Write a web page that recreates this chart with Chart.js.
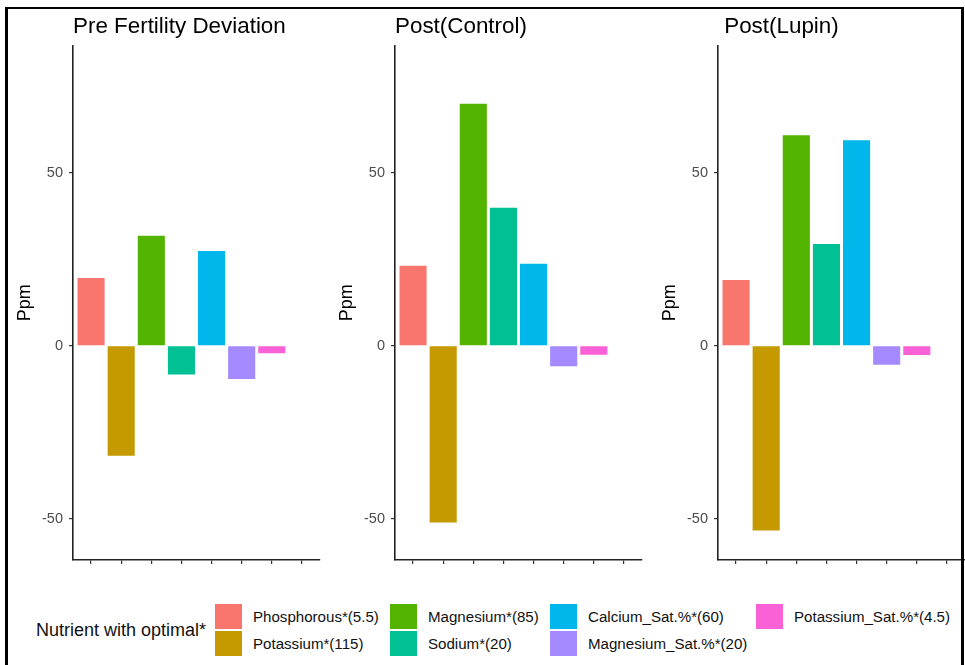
<!DOCTYPE html>
<html>
<head>
<meta charset="utf-8">
<script src="https://cdn.jsdelivr.net/npm/chart.js@4.4.1/dist/chart.umd.min.js"></script>
<style>
  html, body {
    margin: 0; padding: 0; background: #fff;
    width: 965px; height: 665px; overflow: hidden; position: relative;
    font-family: "Liberation Sans", Arial, sans-serif;
  }
  canvas { position: absolute; top: 0; }
  #frame {
    position: absolute; left: 5px; top: 7px; width: 953px; height: 680px;
    border-left: 3px solid #000; border-right: 3px solid #000; border-top: 2px solid #000;
    pointer-events: none;
  }
  .leg-title { position: absolute; left: 36px; top: 618px; font-size: 18px; color: #111; white-space: nowrap; line-height: 24px; }
  .leg-key { position: absolute; width: 27px; height: 25px; }
  .leg-label { position: absolute; font-size: 15.1px; color: #111; white-space: nowrap; line-height: 25px; }
</style>
</head>
<body>
<canvas id="p0" width="322" height="576" style="left:0px"></canvas>
<canvas id="p1" width="322" height="576" style="left:322px"></canvas>
<canvas id="p2" width="322" height="576" style="left:645px"></canvas>
<div id="legend"></div>
<div id="frame"></div>

<script>
// Nutrients and their optimal levels (legend labels)
const nutrients = [
  'Phosphorous*(5.5)', 'Potassium*(115)', 'Magnesium*(85)', 'Sodium*(20)',
  'Calcium_Sat.%*(60)', 'Magnesium_Sat.%*(20)', 'Potassium_Sat.%*(4.5)'
];
const nutrientColors = ['#F8766D', '#C49A00', '#53B400', '#00C094', '#00B6EB', '#A58AFF', '#FB61D7'];

// Slot of each nutrient on the discrete x axis; an eighth slot is left empty
const slots = [1, 2, 3, 4, 5, 6, 7];
const xTicks = [1, 2, 3, 4, 5, 6, 7, 8];
const yTicks = [-50, 0, 50];

// Deviation from optimal (ppm)
const preDeviation = [19.6, -31.8, 31.8, -8.3, 27.4, -9.6, -2.2];
const postControl  = [23.1, -51.1, 69.9, 39.9, 23.7, -5.9, -2.6];
const postLupin    = [19.0, -53.4, 60.8, 29.4, 59.4, -5.5, -2.7];

const panelTitles = ['Pre Fertility Deviation', 'Post(Control)', ' Post(Lupin)'];
const yTitle = 'Ppm';
const legendTitle = 'Nutrient with optimal*';

const FONT = '"Liberation Sans", Arial, sans-serif';

function makePanel(id, title, values) {
  return new Chart(document.getElementById(id), {
    type: 'bar',
    data: {
      datasets: [{
        data: values.map((v, i) => ({ x: slots[i], y: v })),
        backgroundColor: nutrientColors,
        borderWidth: 0,
        barPercentage: 0.9,
        categoryPercentage: 1
      }]
    },
    options: {
      responsive: false,
      animation: false,
      devicePixelRatio: 1,
      layout: { padding: { left: 0, right: 2, top: 0, bottom: 0 } },
      plugins: {
        legend: { display: false },
        tooltip: { enabled: false },
        title: {
          display: true, text: title, align: 'start', fullSize: false,
          color: '#000',
          font: { family: FONT, size: 22.4, weight: 'normal', lineHeight: 1.2 },
          padding: { top: 13.5, bottom: 5.3 }
        }
      },
      scales: {
        x: {
          type: 'linear', min: 0.4, max: 8.6, offset: false,
          afterBuildTicks: s => { s.ticks = xTicks.map(v => ({ value: v })); },
          afterFit: s => { s.height = 16; },
          ticks: { display: false },
          grid: { display: true, offset: false, drawOnChartArea: false, drawTicks: true, tickLength: 4, color: '#333', lineWidth: 1.2 },
          border: { display: true, color: '#222', width: 1.6 }
        },
        y: {
          type: 'linear', min: -61.9, max: 86.7,
          afterBuildTicks: s => { s.ticks = yTicks.map(v => ({ value: v })); },
          afterFit: s => { s.width = 73; },
          ticks: { color: '#4d4d4d', font: { family: FONT, size: 14.5 }, padding: 6 },
          grid: { display: true, drawOnChartArea: false, drawTicks: true, tickLength: 4, color: '#333', lineWidth: 1.2 },
          border: { display: true, color: '#222', width: 1.6 },
          title: {
            display: true, text: yTitle, color: '#000',
            font: { family: FONT, size: 18, lineHeight: 1.2 },
            padding: { top: 14, bottom: 0 }
          }
        }
      }
    }
  });
}

makePanel('p0', panelTitles[0], preDeviation);
makePanel('p1', panelTitles[1], postControl);
makePanel('p2', panelTitles[2], postLupin);

// Legend: two rows, filled column by column
const legend = document.getElementById('legend');
const colLeft = [215, 390, 550, 756];
const rowTop = [604, 630.7];
const t = document.createElement('div');
t.className = 'leg-title';
t.textContent = legendTitle;
legend.appendChild(t);
nutrients.forEach((name, i) => {
  const col = Math.floor(i / 2), row = i % 2;
  const key = document.createElement('div');
  key.className = 'leg-key';
  key.style.left = colLeft[col] + 'px';
  key.style.top = rowTop[row] + 'px';
  key.style.background = nutrientColors[i];
  legend.appendChild(key);
  const lab = document.createElement('div');
  lab.className = 'leg-label';
  lab.style.left = (colLeft[col] + 38) + 'px';
  lab.style.top = rowTop[row] + 'px';
  lab.textContent = name;
  legend.appendChild(lab);
});
</script>
</body>
</html>
